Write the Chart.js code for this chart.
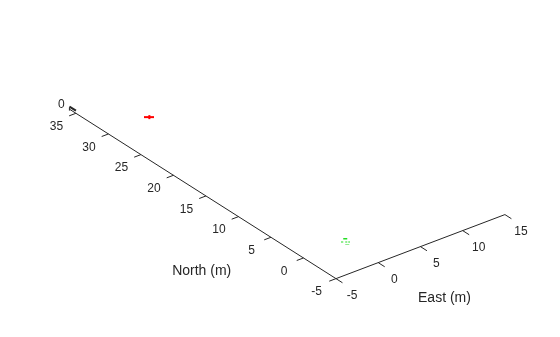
<!DOCTYPE html>
<html>
<head>
<meta charset="utf-8">
<script src="https://cdn.jsdelivr.net/npm/chart.js@4.4.0/dist/chart.umd.min.js"></script>
<style>
  html, body { margin: 0; padding: 0; background: #fff; }
  #c { display: block; }
</style>
</head>
<body>
<canvas id="c" width="560" height="337"></canvas>
<script>
// axis limits and ticks, metres
const eastLimits = [-5, 15]
const northLimits = [-5, 36]
const zLimits = [-0.5, 0.5]
const eastTicks = [-5, 0, 5, 10, 15]
const northTicks = [-5, 0, 5, 10, 15, 20, 25, 30, 35]
const zTicks = [0]

// the two markers
const startEast = [0]
const startNorth = [0]
const goalEast = [0]
const goalNorth = [30.2]

const ink = '#262626'

// oblique 3-D view flattened onto the page (view units per metre)
const view = { ox: 337, oy: 282, ex: 8.6, ey: -3.3, nx: -6.62, ny: -4.26, zy: -3 }
function project(e, n, z) {
  const de = e - eastLimits[0], dn = n - northLimits[0]
  return {
    x: view.ox + de * view.ex + dn * view.nx,
    y: view.oy + de * view.ey + dn * view.ny + (z || 0) * view.zy
  }
}

const gap = { x: null, y: null }

// axis lines
const axisLines = [
  project(eastLimits[0], northLimits[0]), project(eastLimits[0], northLimits[1]), gap,
  project(eastLimits[0], northLimits[0]), project(eastLimits[1], northLimits[0]), gap,
  project(eastLimits[0], northLimits[1], zLimits[0]), project(eastLimits[0], northLimits[1], zLimits[1])
]

// tick marks: north ticks point toward -east, east ticks toward -north
const tickLines = []
northTicks.forEach(n => tickLines.push(project(eastLimits[0], n), project(eastLimits[0] - 0.8, n), gap))
eastTicks.forEach(e => tickLines.push(project(e, northLimits[0]), project(e, northLimits[0] - 1), gap))

const zTickLines = []
zTicks.forEach(z => zTickLines.push(project(eastLimits[0], northLimits[1], z + 0.9), project(eastLimits[0], northLimits[1] - 1, z + 0.9), gap))

function markerImage(color, rects, w, h) {
  const c = document.createElement('canvas')
  c.width = w; c.height = h
  const g = c.getContext('2d')
  g.fillStyle = color
  rects.forEach(r => g.fillRect(r[0], r[1], r[2], r[3]))
  return c
}

const goalMark = markerImage('#ff0000', [[0, 2, 10, 2], [4, 1, 2, 4]], 10, 6)
const startMark = markerImage('#22dd22', [[2, 0, 2, 1], [4, 0, 2, 1], [0, 3, 2, 1], [4, 3, 2, 1], [7, 3, 2, 1], [4, 6, 2, 1], [6, 6, 2, 1]], 9, 7)

const axisText = {
  id: 'axisText',
  afterDatasetsDraw(chart) {
    const { ctx, scales: { x, y } } = chart
    const put = (p, dx, dy, s) => ctx.fillText(s, x.getPixelForValue(p.x) + dx, y.getPixelForValue(p.y) + dy)
    ctx.save()
    ctx.fillStyle = ink
    ctx.textAlign = 'center'
    ctx.textBaseline = 'middle'
    ctx.font = '12px "Liberation Sans", Arial, sans-serif'
    northTicks.forEach(n => put(project(eastLimits[0], n), -19.5, 13.5, String(n)))
    eastTicks.forEach(e => put(project(e, northLimits[0]), 16, 17.5, String(e)))
    zTicks.forEach(z => put(project(eastLimits[0], northLimits[1], z), -8, -4, String(z)))
    ctx.font = '14px "Liberation Sans", Arial, sans-serif'
    put(project(eastLimits[0], 15.5), -1, 77, 'North (m)')
    put(project(5, northLimits[0]), 24, 51.5, 'East (m)')
    ctx.restore()
  }
}

new Chart(document.getElementById('c'), {
  type: 'scatter',
  data: {
    datasets: [{
      data: axisLines,
      showLine: true,
      borderColor: ink,
      borderWidth: 1,
      pointRadius: 0
    }, {
      data: tickLines,
      showLine: true,
      borderColor: ink,
      borderWidth: 1,
      pointRadius: 0
    }, {
      data: zTickLines,
      showLine: true,
      borderColor: ink,
      borderWidth: 2,
      pointRadius: 0
    }, {
      data: startEast.map((e, i) => project(e, startNorth[i])),
      pointStyle: startMark,
      pointRadius: 4
    }, {
      data: goalEast.map((e, i) => project(e, goalNorth[i])),
      pointStyle: goalMark,
      pointRadius: 4
    }]
  },
  options: {
    responsive: false,
    animation: false,
    events: [],
    devicePixelRatio: 1,
    layout: { padding: 0 },
    plugins: { legend: { display: false }, tooltip: { enabled: false } },
    scales: {
      x: { type: 'linear', min: 0, max: 560, display: false },
      y: { type: 'linear', min: 0, max: 337, reverse: true, display: false }
    }
  },
  plugins: [axisText]
})
</script>
</body>
</html>
